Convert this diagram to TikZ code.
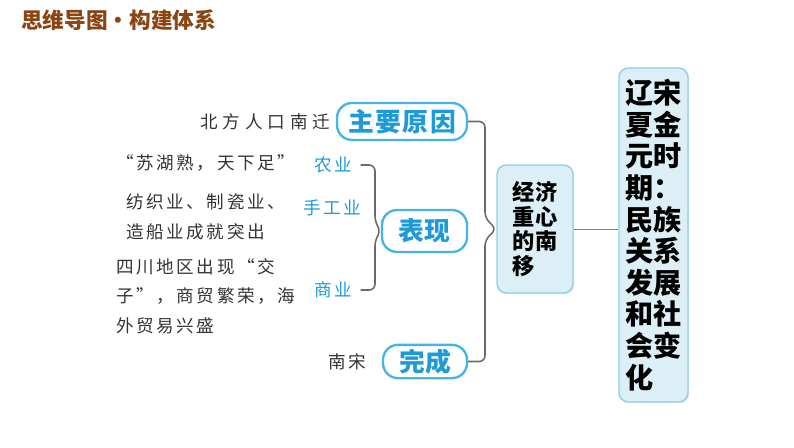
\documentclass[tikz,border=0pt]{standalone}
\usepackage{fontspec}
\setmainfont{Noto Sans CJK SC}
\newfontfamily\hand{Noto Sans CJK SC}[LetterSpace=15]
\newfontfamily\handwide{Noto Sans CJK SC}[LetterSpace=28]
\usetikzlibrary{shadows}
\definecolor{titlebrown}{HTML}{8B4513}
\definecolor{keyblue}{HTML}{1E9AD6}
\definecolor{boxline}{HTML}{45B5E3}
\definecolor{panelfill}{HTML}{DDEFF6}
\definecolor{panelline}{HTML}{8ECFE6}
\definecolor{bracegray}{HTML}{6A6A6A}
\definecolor{inkgray}{HTML}{333333}
\begin{document}
\begin{tikzpicture}[x=0.03cm, y=-0.03cm,
  keybox/.style={draw=boxline, line width=2pt, fill=white, rounded corners=0.45cm, text=keyblue, font=\fontsize{22}{22}\selectfont\bfseries},
  panel/.style={draw=panelline, line width=1.2pt, fill=panelfill, rounded corners=8pt, align=left, drop shadow={opacity=0.2, shadow xshift=1pt, shadow yshift=-1pt}},
  tag/.style={text=keyblue, font=\hand\fontsize{15}{15}\selectfont},
  note/.style={anchor=west, align=left, text=inkgray, font=\hand\fontsize{15}{25}\selectfont},
  brace/.style={draw=bracegray, line width=1.3pt, rounded corners=5pt}
]
\useasboundingbox (0,0) rectangle (794,447);
\node[anchor=west, text=titlebrown, font=\fontsize{18.5}{18.5}\selectfont\bfseries] (title) at (17,20) {思维导图•构建体系};

% main panels
\node[panel, minimum width=2.07cm, minimum height=10.02cm, font=\fontsize{24}{27}\selectfont\bfseries] (era) at (653.5,235) {辽宋\\夏金\\元时\\期：\\民族\\关系\\发展\\和社\\会变\\化};
\node[panel, minimum width=2.28cm, minimum height=3.84cm, font=\fontsize{19}{21.3}\selectfont\bfseries] (shift) at (535,229) {经济\\重心\\的南\\移};

% key boxes
\node[keybox, minimum width=3.9cm, minimum height=1.11cm, font=\addfontfeatures{LetterSpace=6}\fontsize{22}{22}\selectfont\bfseries] (cause) at (402,121.5) {主要原因};
\node[keybox, minimum width=2.55cm, minimum height=1.26cm] (show) at (424.5,231) {表现};
\node[keybox, minimum width=2.52cm, minimum height=1.0cm] (done) at (425,361.5) {完成};

% tags
\node[tag] (farm) at (333,165) {农业};
\node[tag] (craft) at (332,208) {手工业};
\node[tag] (trade) at (333,290) {商业};

% notes
\node[note, font=\handwide\fontsize{15}{25}\selectfont] (migrate) at (196,122) {北方人口南迁};
\node[note] (farmnote) at (112,163) {“苏湖熟，天下足”};
\node[note] (craftnote) at (122,217) {纺织业、制瓷业、\\造船业成就突出};
\node[note] (tradenote) at (112,296) {四川地区出现“交\\子”，商贸繁荣，海\\外贸易兴盛};
\node[note, anchor=east] (song) at (370,362) {南宋};

% connectors
\draw[brace] (cause.east) -- (485,121.5) -- (485,218) -- (shift.west) -- (485,240) -- (485,361.5) -- (done.east);
\draw[brace] ([xshift=4pt]farm.east) -- (375,165) -- (375,222) -- (show.west) -- (375,240) -- (375,290) -- ([xshift=4pt]trade.east);
\draw[draw=bracegray!70!panelline, line width=0.8pt] (shift.east) -- (shift.east -| era.west);
\end{tikzpicture}
\end{document}
